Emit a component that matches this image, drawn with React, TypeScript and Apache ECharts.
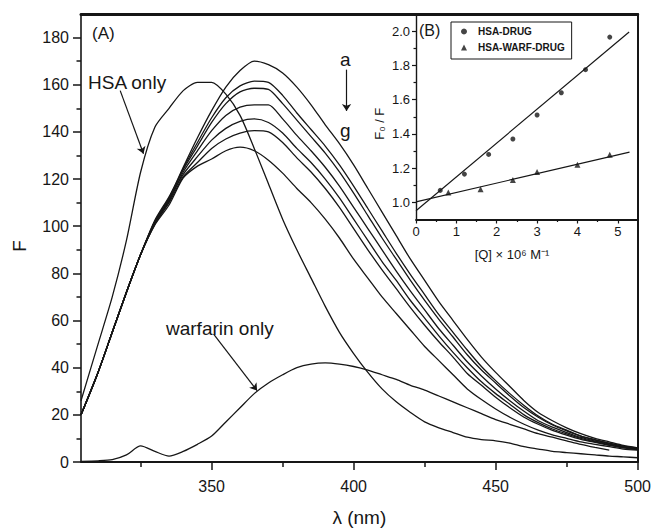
import React, { useEffect, useRef } from 'react';
import * as echarts from 'echarts';

const FONT = "'Liberation Sans', Arial, Helvetica, sans-serif";
const INK = '#161616';

// ---------- Panel (A): emission spectra ----------
const wavelengths = [304, 310, 315, 320, 325, 330, 335, 340, 345, 350, 355, 360, 365, 370, 375, 380, 385, 390, 395, 400, 405, 410, 415, 420, 425, 430, 435, 440, 445, 450, 455, 460, 465, 470, 475, 480, 485, 490, 495, 500];

const hsaOnly = [26, 50, 70, 94, 123, 142, 150, 157.5, 161, 161, 156, 147, 133, 118, 103, 90, 78, 66, 55, 46, 38, 31, 25.5, 21, 17, 14.5, 12.5, 10.5, 9.5, 9, 8, 6.5, 5.5, 4.5, 4, 3.5, 3, 2.5, 2.2, 1.8];
const curveA = [20, 38, 55, 72, 88, 102, 112, 125, 137.5, 149, 159, 166, 170, 168.5, 165, 159, 151.5, 143, 135, 126, 116, 106, 96, 86, 77, 68, 60, 52, 44.5, 38, 32, 26, 21, 17.5, 14.5, 12, 10, 8.5, 7, 6];
const curveB = [20, 38, 55, 72, 88, 101.5, 111, 124.5, 135.5, 146, 154.5, 159.5, 161.5, 161, 155.5, 148, 141, 134, 126, 117, 107.5, 98, 88.5, 79.5, 71, 62.5, 55, 47.5, 40.5, 34.5, 29, 24, 19.5, 16, 13.5, 11, 9.5, 8, 6.7, 5.8];
const curveC = [20, 38, 55, 72, 88, 102.5, 112.5, 124, 134, 144, 152, 157, 158.5, 158, 152, 145, 138, 131, 123, 114, 104.5, 95, 86, 77, 68.5, 60.5, 53, 45.5, 39, 33.5, 28, 23, 19, 15.7, 13.2, 11, 9.3, 7.9, 6.6, 5.7];
const curveD = [20, 38, 55, 72, 88, 101, 110.5, 123, 132, 140.5, 147, 150.5, 151.5, 151.5, 145.5, 138.5, 132, 125, 117, 108, 99, 90, 81, 72.5, 64.5, 56.5, 49.5, 42.5, 36.5, 31, 26, 21.5, 17.5, 14.8, 12.5, 10.4, 8.9, 7.6, 6.3, 5.5];
const curveE = [20, 38, 55, 72, 88, 102, 111.5, 122, 129.5, 136.5, 141.5, 144.5, 145.5, 144, 139.5, 133, 127, 120, 112, 103, 94, 85, 77, 68.5, 61, 53.5, 46.5, 40, 34, 29, 24.5, 20, 16.7, 14, 11.9, 10, 8.5, 7.3, 6.1, 5.4];
const curveF = [20, 38, 55, 72, 88, 101, 110, 121, 127, 133, 137, 139.5, 140.5, 140, 135.5, 129, 123, 116, 108, 99, 90, 81.5, 73.5, 65.5, 58, 51, 44.5, 37.5, 32.5, 27.5, 23, 19, 16, 13.4, 11.4, 9.6, 8.3, 7.1, 6, 5.3];
const curveG = [20, 38, 55, 72, 88, 100.5, 109, 120.5, 125.5, 128.5, 132, 133.5, 132, 128, 122.5, 116, 110, 103, 95, 86, 78, 70, 63, 56, 49, 43, 37, 31, 26.5, 22.5, 19, 16, 13.5, 11.5, 10, 8.5, 7.5, 6.5, 5.5, 5];
const warfarinOnly = [0.3, 0.5, 1, 3, 6.8, 4.5, 2.5, 4.5, 7.5, 11, 17, 23, 29, 33.5, 37, 40, 41.5, 42, 41.5, 40.5, 39, 37, 35, 32.5, 30.5, 28, 25.5, 23, 20.5, 18, 16, 14, 12, 10.5, 9, 7.5, 6.2, 5, null, null];

const mainXMajor = [350, 400, 450, 500];
const mainXMinor = [325, 375, 425, 475];
const mainYMajor = [0, 20, 40, 60, 80, 100, 120, 140, 160, 180];
const mainYMinor = [10, 30, 50, 70, 90, 110, 130, 150, 170];

// annotation arrows: [fromX, fromY, toX, toY] in data units
const annotationArrows = [
  [317.8, 157.5, 326, 130.7],
  [350.7, 54.2, 366, 30.3],
  [397.5, 166.4, 397.5, 148.9],
];

// ---------- Panel (B): Stern-Volmer ----------
const drugQ = [0.6, 1.2, 1.8, 2.4, 3.0, 3.6, 4.2, 4.8];
const drugRatio = [1.07, 1.165, 1.28, 1.37, 1.51, 1.64, 1.775, 1.965];
const warfQ = [0.8, 1.6, 2.4, 3.0, 4.0, 4.8];
const warfRatio = [1.057, 1.077, 1.13, 1.177, 1.219, 1.278];
const drugFitQ = [0, 5.28];
const drugFitRatio = [0.951, 1.995];
const warfFitQ = [0, 5.29];
const warfFitRatio = [1.003, 1.293];

const insetXMajor = [0, 1, 2, 3, 4, 5];
const insetXMinor = [0.5, 1.5, 2.5, 3.5, 4.5];
const insetYMajor = [1.0, 1.2, 1.4, 1.6, 1.8, 2.0];
const insetYMinor = [1.1, 1.3, 1.5, 1.7, 1.9];

const pairs = (xs: number[], ys: (number | null)[]) => xs.map((x, i) => [x, ys[i]]);

const lineStyleOf = (w: number) => ({ color: INK, width: w });

function buildOption(): any {
  const spectra = [hsaOnly, curveA, curveB, curveC, curveD, curveE, curveF, curveG, warfarinOnly];
  const spectraSeries = spectra.map((arr, idx) => ({
    type: 'line',
    xAxisIndex: 0,
    yAxisIndex: 0,
    data: pairs(wavelengths, arr),
    symbol: 'none',
    smooth: 0.25,
    connectNulls: false,
    lineStyle: { color: INK, width: 1.3 },
    silent: true,
    z: 3,
    markLine:
      idx === 0
        ? {
            silent: true,
            symbol: ['none', 'arrow'],
            symbolSize: 7,
            label: { show: false },
            emphasis: { disabled: true },
            lineStyle: { color: INK, width: 1.2, type: 'solid' },
            data: annotationArrows.map((a) => [{ coord: [a[0], a[1]] }, { coord: [a[2], a[3]] }]),
          }
        : undefined,
  }));

  const txt = { color: INK, fontFamily: FONT };

  return {
    animation: false,
    backgroundColor: '#fff',
    textStyle: { fontFamily: FONT, color: INK },
    grid: [
      { left: 81, right: 16, top: 14, bottom: 65, show: false },
      { left: 416, right: 16, top: 14, bottom: 312.5, show: false },
    ],
    legend: {
      data: [
        { name: 'HSA-DRUG', icon: 'circle' },
        { name: 'HSA-WARF-DRUG', icon: 'triangle' },
      ],
      orient: 'vertical',
      left: 451,
      top: 22,
      borderColor: INK,
      borderWidth: 1,
      padding: [3, 7, 5, 10],
      itemGap: 3,
      itemWidth: 6,
      itemHeight: 6,
      selectedMode: false,
      textStyle: {
        fontSize: 10,
        fontWeight: 'bold',
        fontFamily: FONT,
        color: INK,
        lineHeight: 13,
        padding: [0, 0, 0, 6],
      },
    },
    xAxis: [
      {
        gridIndex: 0, type: 'value', min: 304, max: 500, position: 'bottom',
        axisLine: { show: true, onZero: false, lineStyle: lineStyleOf(1.8) },
        axisTick: { show: true, customValues: mainXMajor, length: 8, lineStyle: lineStyleOf(1.5) },
        axisLabel: { show: true, customValues: mainXMajor, fontSize: 16, margin: 16, ...txt },
        splitLine: { show: false },
        name: 'λ (nm)', nameLocation: 'middle', nameGap: 46,
        nameTextStyle: { fontSize: 19, ...txt },
      },
      {
        gridIndex: 0, type: 'value', min: 304, max: 500, position: 'bottom',
        axisLine: { show: false, onZero: false },
        axisTick: { show: true, customValues: mainXMinor, length: 5, lineStyle: lineStyleOf(1.5) },
        axisLabel: { show: false },
        splitLine: { show: false },
      },
      {
        gridIndex: 0, type: 'value', min: 304, max: 500, position: 'top',
        axisLine: { show: true, onZero: false, lineStyle: lineStyleOf(3) },
        axisTick: { show: false },
        axisLabel: { show: false },
        splitLine: { show: false },
      },
      {
        gridIndex: 1, type: 'value', min: 0, max: 5.5, position: 'bottom',
        axisLine: { show: true, onZero: false, lineStyle: lineStyleOf(1.8) },
        axisTick: { show: true, customValues: insetXMajor, length: 4, lineStyle: lineStyleOf(1.2) },
        axisLabel: { show: true, customValues: insetXMajor, fontSize: 13, margin: 5, ...txt },
        splitLine: { show: false },
        name: '[Q] × 10⁶ M⁻¹', nameLocation: 'middle', nameGap: 28,
        nameTextStyle: { fontSize: 13, padding: [0, 30, 0, 0], ...txt },
      },
      {
        gridIndex: 1, type: 'value', min: 0, max: 5.5, position: 'bottom',
        axisLine: { show: false, onZero: false },
        axisTick: { show: true, customValues: insetXMinor, length: 2.5, lineStyle: lineStyleOf(1.2) },
        axisLabel: { show: false },
        splitLine: { show: false },
      },
    ],
    yAxis: [
      {
        gridIndex: 0, type: 'value', min: 0, max: 190, position: 'left',
        axisLine: { show: true, onZero: false, lineStyle: lineStyleOf(1.6) },
        axisTick: { show: true, customValues: mainYMajor, length: 8, lineStyle: lineStyleOf(1.5) },
        axisLabel: { show: true, customValues: mainYMajor, fontSize: 16, margin: 12, ...txt },
        splitLine: { show: false },
        name: 'F', nameLocation: 'middle', nameGap: 52, nameRotate: 90,
        nameTextStyle: { fontSize: 19, padding: [0, 16, 0, 0], ...txt },
      },
      {
        gridIndex: 0, type: 'value', min: 0, max: 190, position: 'left',
        axisLine: { show: false, onZero: false },
        axisTick: { show: true, customValues: mainYMinor, length: 4.5, lineStyle: lineStyleOf(1.5) },
        axisLabel: { show: false },
        splitLine: { show: false },
      },
      {
        gridIndex: 0, type: 'value', min: 0, max: 190, position: 'right',
        axisLine: { show: true, onZero: false, lineStyle: lineStyleOf(2) },
        axisTick: { show: false },
        axisLabel: { show: false },
        splitLine: { show: false },
      },
      {
        gridIndex: 1, type: 'value', min: 0.9, max: 2.1, position: 'left',
        axisLine: { show: true, onZero: false, lineStyle: lineStyleOf(1.4) },
        axisTick: { show: true, customValues: insetYMajor, length: 4, lineStyle: lineStyleOf(1.2) },
        axisLabel: {
          show: true, customValues: insetYMajor, fontSize: 13, margin: 6,
          formatter: (v: number) => v.toFixed(1), ...txt,
        },
        splitLine: { show: false },
        name: 'F₀ / F', nameLocation: 'middle', nameGap: 30, nameRotate: 90,
        nameTextStyle: { fontSize: 13, padding: [0, 14, 0, 0], ...txt },
      },
      {
        gridIndex: 1, type: 'value', min: 0.9, max: 2.1, position: 'left',
        axisLine: { show: false, onZero: false },
        axisTick: { show: true, customValues: insetYMinor, length: 2.5, lineStyle: lineStyleOf(1.2) },
        axisLabel: { show: false },
        splitLine: { show: false },
      },
    ],
    series: [
      ...spectraSeries,
      {
        name: 'HSA-DRUG', type: 'scatter', xAxisIndex: 3, yAxisIndex: 3,
        data: pairs(drugQ, drugRatio), symbol: 'circle', symbolSize: 5,
        itemStyle: { color: INK }, silent: true, z: 4,
      },
      {
        name: 'HSA-WARF-DRUG', type: 'scatter', xAxisIndex: 3, yAxisIndex: 3,
        data: pairs(warfQ, warfRatio), symbol: 'triangle', symbolSize: 6,
        itemStyle: { color: INK }, silent: true, z: 4,
      },
      {
        name: 'drugFit', type: 'line', xAxisIndex: 3, yAxisIndex: 3,
        data: pairs(drugFitQ, drugFitRatio), symbol: 'none',
        lineStyle: { color: INK, width: 1.2 }, silent: true, z: 3,
      },
      {
        name: 'warfFit', type: 'line', xAxisIndex: 3, yAxisIndex: 3,
        data: pairs(warfFitQ, warfFitRatio), symbol: 'none',
        lineStyle: { color: INK, width: 1.2 }, silent: true, z: 3,
      },
    ],
    graphic: [
      { type: 'text', left: 92, top: 25, silent: true, style: { text: '(A)', fontSize: 17, fontFamily: FONT, fill: INK } },
      { type: 'text', left: 88, top: 73, silent: true, style: { text: 'HSA only', fontSize: 19, fontFamily: FONT, fill: INK } },
      { type: 'text', left: 340, top: 50, silent: true, style: { text: 'a', fontSize: 19, fontFamily: FONT, fill: INK } },
      { type: 'text', left: 340, top: 121, silent: true, style: { text: 'g', fontSize: 19, fontFamily: FONT, fill: INK } },
      { type: 'text', left: 166, top: 319, silent: true, style: { text: 'warfarin only', fontSize: 19, fontFamily: FONT, fill: INK } },
      { type: 'text', left: 419, top: 22, silent: true, style: { text: '(B)', fontSize: 16, fontFamily: FONT, fill: INK } },
    ],
  };
}

export default function App() {
  const ref = useRef<HTMLDivElement>(null);
  useEffect(() => {
    document.body.style.margin = '0';
    const chart = echarts.init(ref.current as HTMLDivElement, null, { renderer: 'svg' });
    chart.setOption(buildOption());
    return () => {
      chart.dispose();
    };
  }, []);
  return <div ref={ref} style={{ width: 654, height: 532 }} />;
}
